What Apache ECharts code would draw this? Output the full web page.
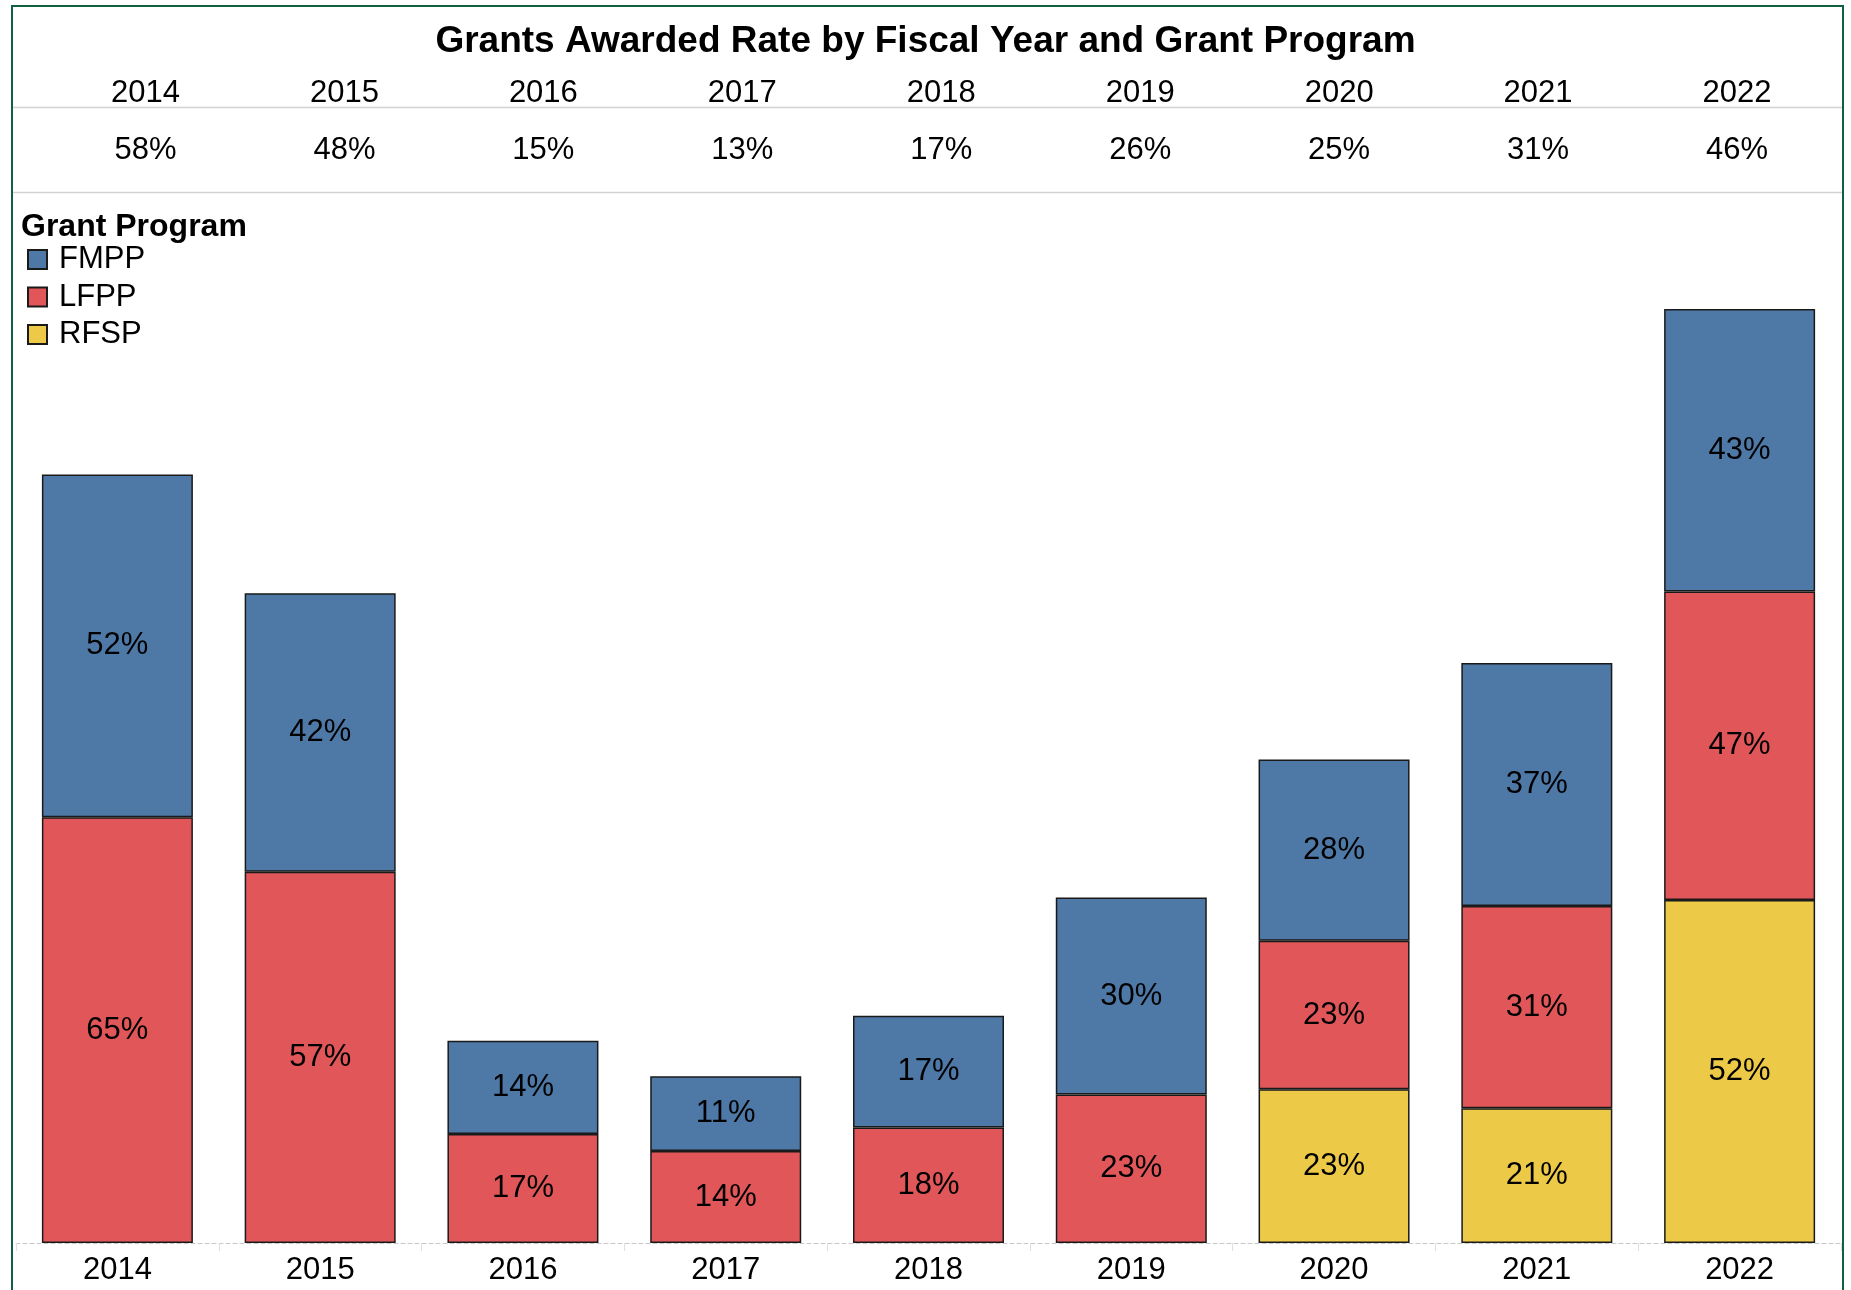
<!DOCTYPE html>
<html>
<head>
<meta charset="utf-8">
<script src="https://cdn.jsdelivr.net/npm/echarts@6/dist/echarts.min.js"></script>
<style>
  html, body { margin: 0; padding: 0; background: #fff; }
  #chart { width: 1851px; height: 1290px; }
</style>
</head>
<body>
<div id="chart"></div>
<script>
// fiscal years and overall award rate (header table)
var years = ['2014', '2015', '2016', '2017', '2018', '2019', '2020', '2021', '2022'];
var totalRate = [58, 48, 15, 13, 17, 26, 25, 31, 46];

// award rate per grant program (labels show rounded value)
var fmpp = [52.2, 42.4, 14.2, 11.4, 17, 30, 27.6, 37, 43];
var lfpp = [64.8, 56.5, 16.6, 14, 17.6, 22.6, 22.6, 30.8, 47];
var rfsp = [null, null, null, null, null, null, 23.4, 20.5, 52.2];

var FONT = '"Liberation Sans", Arial, sans-serif';

function segment(name, data, color) {
  return {
    name: name,
    type: 'bar',
    stack: 'rate',
    data: data,
    barWidth: 151,
    itemStyle: { color: color, borderColor: '#1a1a1a', borderWidth: 1.5 },
    label: {
      show: true,
      position: 'inside',
      color: '#000',
      fontSize: 31,
      fontFamily: FONT,
      formatter: function (p) { return Math.round(p.value) + '%'; }
    }
  };
}

var chart = echarts.init(document.getElementById('chart'));
chart.setOption({
  animation: false,
  title: [
    {
      text: 'Grants Awarded Rate by Fiscal Year and Grant Program',
      left: 'center',
      top: 23,
      padding: 0,
      textStyle: { fontSize: 37, fontWeight: 'bold', color: '#000', fontFamily: FONT }
    },
    {
      text: 'Grant Program',
      left: 21,
      top: 211,
      padding: 0,
      textStyle: { fontSize: 32, fontWeight: 'bold', color: '#000', fontFamily: FONT }
    }
  ],
  legend: {
    data: ['FMPP', 'LFPP', 'RFSP'],
    orient: 'vertical',
    left: 27,
    top: 244,
    padding: 0,
    itemWidth: 19,
    itemHeight: 19,
    itemGap: 6.5,
    icon: 'rect',
    selectedMode: false,
    textStyle: { fontSize: 31, color: '#000', fontFamily: FONT, padding: [0, 0, 0, 7] }
  },
  // frame and header table rules
  graphic: [
    { type: 'rect', shape: { x: 12, y: 6, width: 1831, height: 1300 },
      style: { fill: 'none', stroke: '#11603f', lineWidth: 2 } },
    { type: 'line', shape: { x1: 13, y1: 107.5, x2: 1842, y2: 107.5 },
      style: { stroke: '#d2d2d2', lineWidth: 1.5 } },
    { type: 'line', shape: { x1: 13, y1: 192.5, x2: 1842, y2: 192.5 },
      style: { stroke: '#d2d2d2', lineWidth: 1.5 } }
  ],
  grid: [
    { left: 16, right: 10, top: 192, bottom: 47 },
    { left: 46, right: 14.5, top: 107, height: 85 }
  ],
  xAxis: [
    {
      type: 'category',
      data: years,
      gridIndex: 0,
      axisLine: { lineStyle: { color: '#c8c8c8', type: [4, 3], width: 1 } },
      axisTick: { show: true, length: 8, lineStyle: { color: '#e0e0e0' } },
      axisLabel: { fontSize: 31, color: '#000', fontFamily: FONT, margin: 12 }
    },
    {
      type: 'category',
      data: years,
      gridIndex: 1,
      position: 'top',
      axisLine: { show: false },
      axisTick: { show: false },
      axisLabel: { fontSize: 31, color: '#000', fontFamily: FONT, margin: -2 }
    }
  ],
  yAxis: [
    { type: 'value', gridIndex: 0, min: 0, max: 160, show: false },
    { type: 'value', gridIndex: 1, min: 0, max: 1, show: false }
  ],
  series: [
    segment('RFSP', rfsp, '#edc948'),
    segment('LFPP', lfpp, '#e15759'),
    segment('FMPP', fmpp, '#4e79a7'),
    {
      name: 'Total',
      type: 'scatter',
      xAxisIndex: 1,
      yAxisIndex: 1,
      symbolSize: 0,
      itemStyle: { color: 'transparent' },
      data: totalRate.map(function (v, i) { return [i, 0.5, v]; }),
      label: {
        show: true,
        position: 'inside',
        offset: [0, 1],
        color: '#000',
        opacity: 1,
        textBorderWidth: 0,
        fontSize: 31,
        fontFamily: FONT,
        formatter: function (p) { return p.value[2] + '%'; }
      }
    }
  ]
});
</script>
</body>
</html>
